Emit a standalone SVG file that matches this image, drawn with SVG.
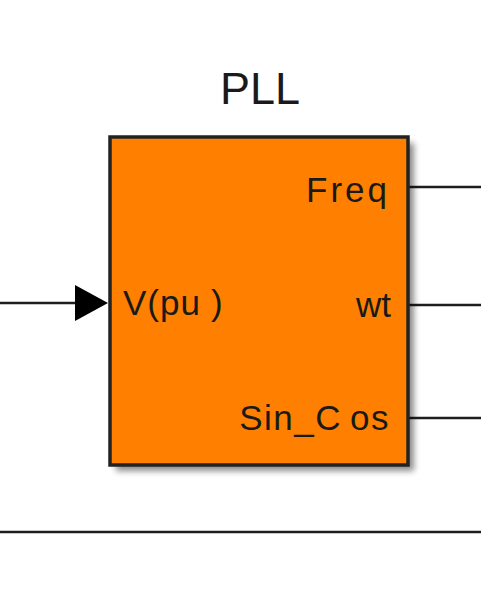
<svg xmlns="http://www.w3.org/2000/svg" width="481" height="610" viewBox="0 0 481 610">
  <style>
    .line { stroke: #1e1e1e; stroke-width: 2.5; fill: none; }
    .lbl { font-family: "Liberation Sans", Arial, sans-serif; font-size: 35px; fill: #1a1a1a; }
    .title { font-family: "Liberation Sans", Arial, sans-serif; font-size: 45px; fill: #1a1a1a; }
  </style>
  <defs>
    <filter id="shadow" x="-10%" y="-10%" width="130%" height="130%">
      <feGaussianBlur stdDeviation="3"/>
    </filter>
  </defs>
  <rect width="481" height="610" fill="#ffffff"/>
  <g id="connectors">
    <line class="line" x1="0" y1="303" x2="78" y2="303"/>
    <polygon points="75,285 108,303 75,321" fill="#000000"/>
    <line class="line" x1="408" y1="187" x2="481" y2="187"/>
    <line class="line" x1="408" y1="305" x2="481" y2="305"/>
    <line class="line" x1="408" y1="418" x2="481" y2="418"/>
    <line class="line" x1="0" y1="532" x2="481" y2="532" stroke-width="3"/>
  </g>
  <g id="pll">
    <text class="title" x="260" y="104" text-anchor="middle">PLL</text>
    <rect x="116" y="143" width="298" height="328" fill="#000" opacity="0.45" filter="url(#shadow)"/>
    <rect x="110" y="137" width="298" height="328" fill="#ff8000" stroke="#222222" stroke-width="3.5"/>
    <text class="lbl" x="390" y="202" text-anchor="end" letter-spacing="3">Freq</text>
    <text class="lbl" x="123" y="315" letter-spacing="1">V(pu<tspan dx="10">)</tspan></text>
    <text class="lbl" x="391" y="317" text-anchor="end">wt</text>
    <text class="lbl" x="390" y="430" text-anchor="end" letter-spacing="1.5">Sin_C<tspan dx="8">os</tspan></text>
  </g>
</svg>
